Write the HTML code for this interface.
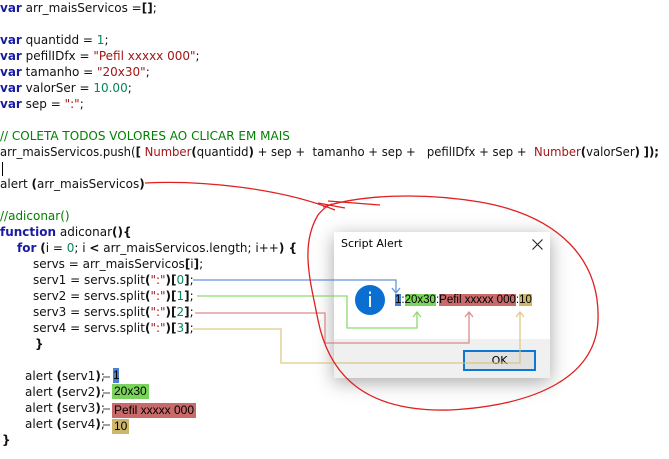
<!DOCTYPE html>
<html><head><meta charset="utf-8"><style>
html,body{margin:0;padding:0;background:#fff;width:669px;height:459px;overflow:hidden;position:relative}
.l{position:absolute;left:0;white-space:pre;font-family:"DejaVu Sans","Liberation Sans",sans-serif;font-size:12px;line-height:16px;color:#111}
.k{color:#1a1aa6;font-weight:bold}
.s{color:#a31515}
.n{color:#098658}
.c{color:#008000}
b{font-weight:bold}
.hl{display:inline-block;line-height:15px;font-family:"Liberation Sans",sans-serif;font-size:12px}
</style></head><body>
<div class="l" style="top:0"><span class="k">var</span> arr_maisServicos =<b>[]</b>;</div>
<div class="l" style="top:32px"><span class="k">var</span> quantidd = <span class="n">1</span>;</div>
<div class="l" style="top:48px"><span class="k">var</span> pefilIDfx = <span class="s">"Pefil xxxxx 000"</span>;</div>
<div class="l" style="top:64px"><span class="k">var</span> tamanho = <span class="s">"20x30"</span>;</div>
<div class="l" style="top:80px"><span class="k">var</span> valorSer = <span class="n">10.00</span>;</div>
<div class="l" style="top:96px"><span class="k">var</span> sep = <span class="s">":"</span>;</div>
<div class="l c" style="top:128px">// COLETA TODOS VOLORES AO CLICAR EM MAIS</div>
<div class="l" style="top:144px;transform-origin:0 0;transform:scaleX(0.97)">arr_maisServicos.push(<b>[</b> <span class="s">Number</span><b>(</b>quantidd<b>)</b> + sep +  tamanho + sep +   pefilIDfx + sep +  <span class="s">Number</span><b>(</b>valorSer<b>)</b> <b>]);</b></div>
<div style="position:absolute;left:2px;top:162px;width:1px;height:14px;background:#000"></div>
<div class="l" style="top:176px">alert <b>(</b>arr_maisServicos<b>)</b></div>
<div class="l c" style="top:208px">//adiconar()</div>
<div class="l" style="top:224px"><span class="k">function</span> adiconar<b>(){</b></div>
<div class="l" style="top:240px;left:17px"><span class="k">for</span> <b>(</b>i = <span class="n">0</span>; i <b>&lt;</b> arr_maisServicos.length; i++<b>) {</b></div>
<div class="l" style="top:256px;left:33px">servs = arr_maisServicos<b>[</b>i<b>]</b>;</div>
<div class="l" style="top:272px;left:33px">serv1 = servs.split<b>(</b><span class="s">":"</span><b>)[</b><span class="n">0</span><b>]</b>;</div>
<div class="l" style="top:288px;left:33px">serv2 = servs.split<b>(</b><span class="s">":"</span><b>)[</b><span class="n">1</span><b>]</b>;</div>
<div class="l" style="top:304px;left:33px">serv3 = servs.split<b>(</b><span class="s">":"</span><b>)[</b><span class="n">2</span><b>]</b>;</div>
<div class="l" style="top:320px;left:33px">serv4 = servs.split<b>(</b><span class="s">":"</span><b>)[</b><span class="n">3</span><b>]</b>;</div>
<div class="l" style="top:336px;left:35px"><b>}</b></div>
<div class="l" style="top:368px;left:25px">alert <b>(</b>serv1<b>)</b>;</div>
<div class="l" style="top:384px;left:25px">alert <b>(</b>serv2<b>)</b>;</div>
<div class="l" style="top:400px;left:25px">alert <b>(</b>serv3<b>)</b>;</div>
<div class="l" style="top:416px;left:25px">alert <b>(</b>serv4<b>)</b>;</div>
<div class="l" style="top:432px;left:2px"><b>}</b></div>
<div class="hl" style="position:absolute;left:113px;top:368px;background:#4a7fd8;width:6px">1</div>
<div class="hl" style="position:absolute;left:112px;top:384px;background:#7ad35a;padding:0 2px">20x30</div>
<div class="hl" style="position:absolute;left:112px;top:403px;background:#c96a6a;padding:0 2px">Pefil xxxxx 000</div>
<div class="hl" style="position:absolute;left:112px;top:419px;background:#cdb66a;padding:0 2px">10</div>
<!-- dialog -->
<div style="position:absolute;left:334px;top:232px;width:216px;height:146px;background:#fff;box-shadow:0 4px 18px rgba(0,0,0,.35)">
 <div style="position:absolute;left:0;top:107px;width:216px;height:39px;background:#f0f0f0"></div>
 <div style="position:absolute;left:7px;top:5px;font-family:'DejaVu Sans',sans-serif;font-size:11px">Script Alert</div>
 <svg style="position:absolute;left:198px;top:7px" width="11" height="11"><path d="M0.5 0.5L10.5 10.5M10.5 0.5L0.5 10.5" stroke="#222" stroke-width="1.1"/></svg>
 <div style="position:absolute;left:21px;top:53px;width:30px;height:30px;border-radius:50%;background:#0a6fd0;color:#fff;text-align:center;font:20px/30px 'DejaVu Sans',sans-serif">i</div>
 <div style="position:absolute;left:129px;top:118px;width:69px;height:17px;border:2px solid #0a78d4;background:#e1e1e1;text-align:center;font:11px/17px 'DejaVu Sans',sans-serif">OK</div>
 <div style="position:absolute;left:61px;top:61px;font:11.5px/15px 'Liberation Sans',sans-serif;white-space:pre"><span style="background:#4a7fd8">1</span>:<span style="background:#7ad35a">20x30</span>:<span style="background:#c96a6a">Pefil xxxxx 000</span>:<span style="background:#cdb66a">10</span></div>
</div>
<svg width="669" height="459" style="position:absolute;left:0;top:0" fill="none">
 <g stroke="#444" stroke-width="1"><path d="M103 377h7M103 393h7M103 409h7M103 425h7"/></g>
 <g stroke-width="1.3" opacity=".85">
  <path d="M193 280H396V292" stroke="#4a7fd8"/><path d="M392 288l4 5 4-5" stroke="#4a7fd8"/>
  <path d="M197 296H347V328H417V313" stroke="#7ad35a"/><path d="M413 317l4-5 4 5" stroke="#7ad35a"/>
  <path d="M195 313H325V343H469V313" stroke="#d47a7a"/><path d="M465 317l4-5 4 5" stroke="#d47a7a"/>
  <path d="M193 329H281V363H520V313" stroke="#d8c070"/><path d="M516 317l4-5 4 5" stroke="#d8c070"/>
 </g>
 <g stroke="#e02020" stroke-width="1.3">
  <path d="M145 183C200 180 280 188 335 210"/>
  <path d="M323 207C360 195 420 192 480 202C560 216 600 260 598 320C596 375 540 405 450 410C370 412 330 380 318 320C310 280 300 245 318 215C325 206 332 204 332 204"/>
  <path d="M318 203L345 208M328 201L380 205"/>
 </g>
</svg>
</body></html>
